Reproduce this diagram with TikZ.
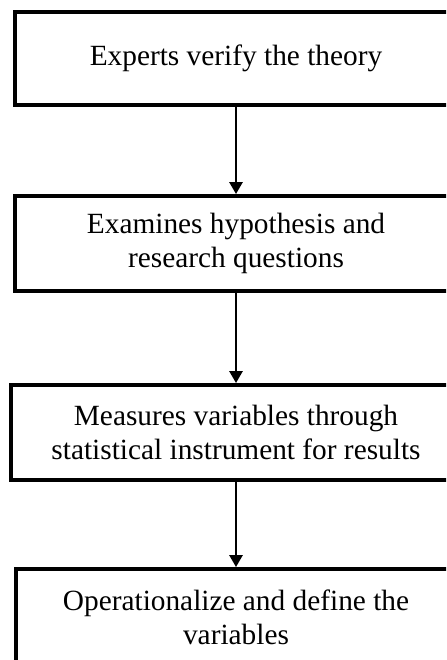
\documentclass[tikz,border=0pt]{standalone}
\usepackage{fontspec}
\setmainfont{Liberation Serif}
\usetikzlibrary{arrows.meta}
\begin{document}
\begin{tikzpicture}[x=0.75pt,y=-0.75pt,
  stagebox/.style={draw=black, line width=3pt, fill=white, align=center,
    inner sep=0pt, font=\fontsize{22}{25.5}\selectfont},
  flowarrow/.style={line width=1.5pt, -{Triangle[length=9pt,width=10pt]}}]
  % page frame; the boxes run past the right and bottom edges
  \clip (0,0) rectangle (446,660);
  \fill[white] (0,0) rectangle (446,660);

  \node[stagebox, minimum width=442*0.75pt, minimum height=93*0.75pt]
    (b1) at (236,58.5) {Experts verify the theory};
  \node[stagebox, minimum width=442*0.75pt, minimum height=95*0.75pt]
    (b2) at (236,243.5) {Examines hypothesis and\\research questions};
  \node[stagebox, minimum width=450*0.75pt, minimum height=95*0.75pt]
    (b3) at (236,432.5) {Measures variables through\\statistical instrument for results};
  \node[stagebox, minimum width=440*0.75pt, minimum height=97*0.75pt]
    (b4) at (236,617.5) {Operationalize and define the\\variables};

  \draw[flowarrow] (b1) -- (b2);
  \draw[flowarrow] (b2) -- (b3);
  \draw[flowarrow] (b3) -- (b4);
\end{tikzpicture}
\end{document}
